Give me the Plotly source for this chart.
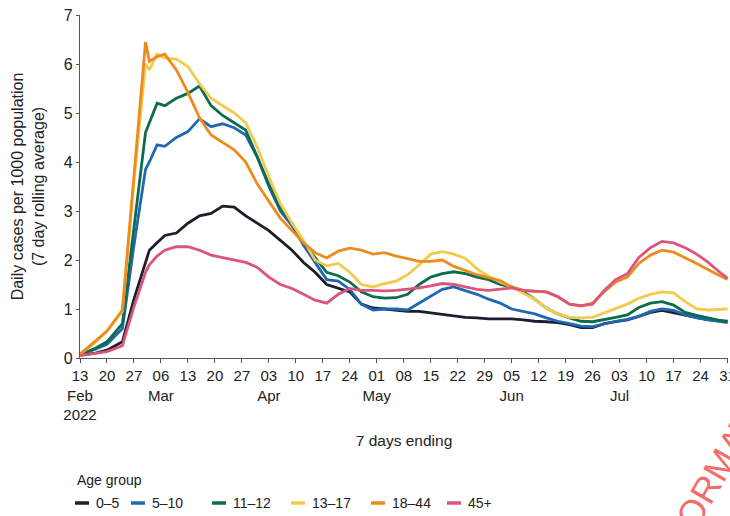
import datetime as dt
import plotly.graph_objects as go

# Days since 13 Feb 2022 at which each series is sampled
day_offsets = [0, 4, 7, 11, 14, 17, 18, 20, 22, 25, 28, 31, 34, 37, 40, 43, 46, 49,
               52, 55, 58, 61, 64, 67, 70, 73, 76, 79, 82, 85, 88, 91, 94, 97, 100,
               103, 106, 109, 112, 115, 118, 121, 124, 127, 130, 133, 136, 139, 142,
               145, 148, 151, 154, 157, 160, 163, 166, 168]

age_0_5 = [0.06, 0.10, 0.16, 0.33, 1.20, 1.95, 2.20, 2.35, 2.50, 2.55, 2.75, 2.90,
           2.95, 3.10, 3.08, 2.90, 2.75, 2.60, 2.40, 2.20, 1.95, 1.75, 1.50, 1.42,
           1.35, 1.10, 1.02, 1.00, 0.97, 0.95, 0.95, 0.92, 0.88, 0.85, 0.83, 0.82,
           0.80, 0.80, 0.80, 0.78, 0.75, 0.74, 0.72, 0.68, 0.62, 0.62, 0.70, 0.74,
           0.78, 0.85, 0.93, 0.97, 0.92, 0.88, 0.82, 0.78, 0.76, 0.75]

age_5_10 = [0.07, 0.18, 0.28, 0.60, 2.30, 3.85, 4.00, 4.35, 4.32, 4.50, 4.62, 4.88,
            4.72, 4.78, 4.70, 4.55, 4.10, 3.50, 3.00, 2.70, 2.30, 1.95, 1.60, 1.57,
            1.40, 1.10, 0.98, 1.00, 1.00, 0.98, 1.12, 1.25, 1.40, 1.45, 1.38, 1.30,
            1.20, 1.12, 1.00, 0.95, 0.90, 0.82, 0.75, 0.70, 0.65, 0.64, 0.70, 0.75,
            0.79, 0.85, 0.95, 1.00, 0.97, 0.88, 0.82, 0.78, 0.74, 0.72]

age_11_12 = [0.07, 0.20, 0.33, 0.70, 2.66, 4.60, 4.80, 5.20, 5.15, 5.30, 5.40, 5.55,
             5.15, 4.95, 4.80, 4.65, 4.10, 3.55, 3.05, 2.75, 2.35, 2.05, 1.75, 1.68,
             1.55, 1.35, 1.25, 1.22, 1.23, 1.30, 1.50, 1.65, 1.72, 1.76, 1.72, 1.65,
             1.60, 1.50, 1.45, 1.35, 1.20, 1.02, 0.90, 0.82, 0.75, 0.74, 0.78, 0.83,
             0.88, 1.03, 1.12, 1.15, 1.08, 0.93, 0.87, 0.82, 0.76, 0.73]

age_13_17 = [0.08, 0.32, 0.55, 0.95, 3.60, 6.00, 5.88, 6.20, 6.12, 6.10, 5.95, 5.60,
             5.30, 5.15, 5.00, 4.80, 4.30, 3.70, 3.15, 2.75, 2.40, 2.00, 1.88, 1.93,
             1.75, 1.50, 1.45, 1.52, 1.57, 1.70, 1.90, 2.12, 2.17, 2.12, 2.03, 1.82,
             1.67, 1.55, 1.45, 1.32, 1.20, 1.02, 0.90, 0.83, 0.82, 0.83, 0.92, 1.02,
             1.10, 1.22, 1.30, 1.35, 1.33, 1.15, 1.00, 0.98, 1.00, 1.00]

age_18_44 = [0.08, 0.35, 0.55, 0.98, 3.70, 6.45, 6.05, 6.15, 6.20, 5.88, 5.42, 4.90,
             4.55, 4.40, 4.25, 4.00, 3.55, 3.20, 2.85, 2.60, 2.35, 2.15, 2.04, 2.18,
             2.24, 2.20, 2.12, 2.15, 2.08, 2.03, 1.97, 1.97, 2.00, 1.87, 1.78, 1.70,
             1.64, 1.58, 1.45, 1.38, 1.36, 1.35, 1.25, 1.10, 1.06, 1.12, 1.35, 1.55,
             1.65, 1.93, 2.10, 2.20, 2.16, 2.05, 1.93, 1.80, 1.68, 1.60]

age_45_plus = [0.05, 0.10, 0.13, 0.25, 1.05, 1.75, 1.90, 2.08, 2.20, 2.27, 2.27, 2.20,
               2.10, 2.05, 2.00, 1.95, 1.85, 1.65, 1.50, 1.42, 1.30, 1.18, 1.12, 1.30,
               1.42, 1.38, 1.38, 1.37, 1.38, 1.40, 1.43, 1.47, 1.52, 1.50, 1.45, 1.40,
               1.38, 1.40, 1.43, 1.38, 1.36, 1.35, 1.25, 1.10, 1.07, 1.10, 1.38, 1.60,
               1.72, 2.05, 2.25, 2.38, 2.35, 2.25, 2.12, 1.95, 1.75, 1.63]

group_names = ["0\u20135", "5\u201310", "11\u201312", "13\u201317", "18\u201344", "45+"]
group_colors = ["#1c1f2b", "#1f68b3", "#0d6b4f", "#f3cb4c", "#ef8a1d", "#dc5479"]
series = [age_0_5, age_5_10, age_11_12, age_13_17, age_18_44, age_45_plus]

# Weekly tick dates (7 days ending) and their labels
tick_dates = ["2022-02-13", "2022-02-20", "2022-02-27", "2022-03-06", "2022-03-13",
              "2022-03-20", "2022-03-27", "2022-04-03", "2022-04-10", "2022-04-17",
              "2022-04-24", "2022-05-01", "2022-05-08", "2022-05-15", "2022-05-22",
              "2022-05-29", "2022-06-05", "2022-06-12", "2022-06-19", "2022-06-26",
              "2022-07-03", "2022-07-10", "2022-07-17", "2022-07-24", "2022-07-31"]
tick_labels = ["13<br>Feb<br>2022", "20", "27", "06<br>Mar", "13", "20", "27",
               "03<br>Apr", "10", "17", "24", "01<br>May", "08", "15", "22", "29",
               "05<br>Jun", "12", "19", "26", "03<br>Jul", "10", "17", "24", "31"]

start = dt.date(2022, 2, 13)
dates = [start + dt.timedelta(days=d) for d in day_offsets]

FONT = "Liberation Sans, Arial, sans-serif"
TEXT = "#222222"

fig = go.Figure()
for name, color, vals in zip(group_names, group_colors, series):
    fig.add_trace(go.Scatter(x=dates, y=vals, mode="lines", name=name,
                             line=dict(color=color, width=2.8), showlegend=False))

W, H = 730, 516
M = dict(l=80, r=2, t=15, b=158)
pw = W - M["l"] - M["r"]
ph = H - M["t"] - M["b"]


def px_x(px):
    return (px - M["l"]) / pw


def px_y(py):
    return (H - M["b"] - py) / ph


# Legend: title plus a row of short line swatches with labels
annotations = [dict(text="Age group", x=px_x(75), y=px_y(480), xref="paper", yref="paper",
                    xanchor="left", yanchor="middle", showarrow=False,
                    font=dict(family=FONT, size=14, color=TEXT))]
shapes = []
swatch_left = [75, 131, 212, 291, 371, 447]
for left, name, color in zip(swatch_left, group_names, group_colors):
    shapes.append(dict(type="line", xref="paper", yref="paper",
                       x0=px_x(left), x1=px_x(left + 14), y0=px_y(503), y1=px_y(503),
                       line=dict(color=color, width=3.5)))
    annotations.append(dict(text=name, x=px_x(left + 19), y=px_y(503), xref="paper",
                            yref="paper", xanchor="left", yanchor="middle",
                            showarrow=False, font=dict(family=FONT, size=14, color=TEXT)))

# Document watermark running off the lower-right corner
annotations.append(dict(text="INFORMATION", x=px_x(718), y=px_y(467),
                        xref="paper", yref="paper", xanchor="center", yanchor="middle",
                        textangle=-60, showarrow=False,
                        font=dict(family=FONT, size=36, color="rgba(240,60,60,0.75)")))

fig.update_layout(
    width=W, height=H, margin=M,
    paper_bgcolor="white", plot_bgcolor="white",
    font=dict(family=FONT, size=14, color=TEXT),
    shapes=shapes, annotations=annotations,
    xaxis=dict(type="date", range=["2022-02-13", "2022-07-31 03:00"],
               tickvals=tick_dates, ticktext=tick_labels, tickangle=0,
               ticklabeloverflow="allow", automargin=False,
               showgrid=False, zeroline=False, showline=True,
               linecolor="#555555", linewidth=1.4, ticks="outside", ticklen=4,
               tickcolor="#555555", tickfont=dict(size=15, color=TEXT),
               title=dict(text="7 days ending", font=dict(size=15.5, color=TEXT),
                          standoff=12)),
    yaxis=dict(range=[0, 7], dtick=1, showgrid=False, zeroline=False, showline=True,
               linecolor="#555555", linewidth=1.4, ticks="outside", ticklen=3,
               tickcolor="#555555", tickfont=dict(size=16, color=TEXT),
               automargin=False,
               title=dict(text="Daily cases per 1000 population<br>(7 day rolling average)",
                          font=dict(size=16, color=TEXT), standoff=15)),
)

fig.write_html("out.html")
